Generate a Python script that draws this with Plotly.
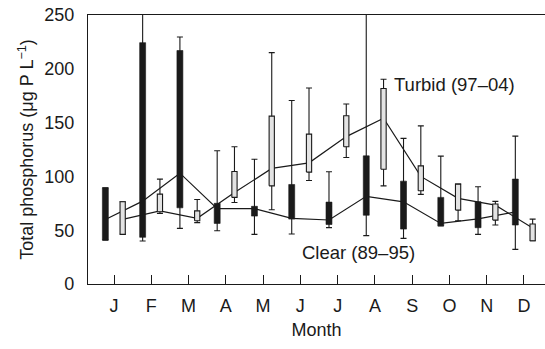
import plotly.graph_objects as go

months = ['J', 'F', 'M', 'A', 'M', 'J', 'J', 'A', 'S', 'O', 'N', 'D']
month_pos = list(range(1, 13))

# Clear period (89-95): whisker low, box q1, box q3, whisker high, connecting-line value
clear_low = [40.8, 40.0, 51.7, 49.5, 46.1, 46.4, 52.4, 45.0, 42.4, 54.0, 46.1, 32.2]
clear_q1 = [40.8, 43.4, 70.8, 56.3, 63.1, 60.3, 55.3, 63.9, 51.0, 54.2, 52.3, 54.8]
clear_q3 = [89.4, 224.3, 217.0, 75.0, 72.2, 92.5, 76.1, 119.1, 95.6, 80.5, 76.4, 97.5]
clear_high = [89.4, 300.0, 229.6, 123.8, 116.0, 170.5, 104.3, 300.0, 135.3, 118.8, 90.4, 137.4]
clear_line = [60.0, 77.0, 103.0, 70.0, 70.0, 61.0, 59.5, 81.5, 76.4, 56.3, 60.5, 67.0]

# Turbid period (97-04)
turbid_low = [46.1, 65.6, 57.0, 75.8, 69.0, 96.2, 117.6, 91.2, 83.3, 58.8, 54.8, 40.2]
turbid_q1 = [46.1, 67.1, 58.8, 80.5, 91.2, 104.0, 127.5, 106.6, 86.6, 68.7, 59.4, 40.2]
turbid_q3 = [76.4, 83.5, 68.0, 104.6, 156.0, 139.3, 156.3, 181.7, 109.8, 92.8, 74.3, 55.7]
turbid_high = [76.4, 97.5, 78.6, 127.5, 215.0, 182.2, 167.3, 190.3, 147.0, 92.8, 76.8, 60.3]
turbid_line = [60.0, 68.0, 61.0, 85.0, 107.4, 112.6, 137.0, 154.0, 100.0, 79.6, 73.3, 52.0]

y_ticks = [0, 50, 100, 150, 200, 250]

# layout / style constants
W, H = 545, 349
ML, MR, MT, MB = 88, 0, 15, 65
X_RANGE = [0.302, 12.564]
Y_RANGE = [0, 250]
OFF_CLEAR, OFF_TURBID = -0.232, 0.232
BOX_W = 0.16
FONT = 'Liberation Sans, Arial, sans-serif'
INK = '#1a1a1a'

xc = [m + OFF_CLEAR for m in month_pos]
xt = [m + OFF_TURBID for m in month_pos]


def box_polys(xs, q1, q3, w):
    px, py = [], []
    for x, a, b in zip(xs, q1, q3):
        px += [x - w / 2, x + w / 2, x + w / 2, x - w / 2, x - w / 2, None]
        py += [a, a, b, b, a, None]
    return px, py


fig = go.Figure()

# connecting lines (drawn first so boxes hide them)
fig.add_trace(go.Scatter(x=xc, y=clear_line, mode='lines',
                         line=dict(color=INK, width=1.2), hoverinfo='skip', showlegend=False))
fig.add_trace(go.Scatter(x=xt, y=turbid_line, mode='lines',
                         line=dict(color=INK, width=1.2), hoverinfo='skip', showlegend=False))

# whiskers
for xs, lo, hi in ((xc, clear_low, clear_high), (xt, turbid_low, turbid_high)):
    fig.add_trace(go.Scatter(
        x=xs, y=lo, mode='markers', marker=dict(size=1, opacity=0),
        error_y=dict(type='data', symmetric=False,
                     array=[h - l for h, l in zip(hi, lo)],
                     arrayminus=[0] * len(lo),
                     color=INK, thickness=1.1, width=3),
        hoverinfo='skip', showlegend=False))

# boxes
bx, by = box_polys(xc, clear_q1, clear_q3, BOX_W)
fig.add_trace(go.Scatter(x=bx, y=by, mode='lines', fill='toself',
                         fillcolor='#1a1a1a', line=dict(color='#1a1a1a', width=0.6),
                         hoverinfo='skip', showlegend=False))
tx, ty = box_polys(xt, turbid_q1, turbid_q3, BOX_W * 0.88)
fig.add_trace(go.Scatter(x=tx, y=ty, mode='lines', fill='toself',
                         fillcolor='#e3e3e3', line=dict(color=INK, width=1.1),
                         hoverinfo='skip', showlegend=False))

fig.add_annotation(x=8.47, y=185.2, xref='x', yref='y', text='Turbid (97–04)',
                   showarrow=False, xanchor='left', yanchor='middle',
                   font=dict(family=FONT, size=18.5, color=INK))
fig.add_annotation(x=5.99, y=29.4, xref='x', yref='y', text='Clear (89–95)',
                   showarrow=False, xanchor='left', yanchor='middle',
                   font=dict(family=FONT, size=18.5, color=INK))

fig.update_layout(
    width=W, height=H,
    margin=dict(l=ML, r=MR, t=MT, b=MB, pad=0),
    paper_bgcolor='white', plot_bgcolor='white',
    font=dict(family=FONT, size=18, color=INK),
    showlegend=False,
)
fig.update_xaxes(
    range=X_RANGE, tickmode='array', tickvals=month_pos, ticktext=months,
    ticks='inside', ticklen=9, tickwidth=1.2, tickcolor=INK,
    showline=True, linecolor=INK, linewidth=1.4, mirror=True,
    showgrid=False, zeroline=False, ticklabelstandoff=5,
    title=dict(text='Month', font=dict(size=18), standoff=8),
    tickfont=dict(size=18),
)
fig.update_yaxes(
    range=Y_RANGE, tickmode='array', tickvals=y_ticks,
    ticks='', showline=True, linecolor=INK, linewidth=1.4,
    showgrid=False, zeroline=False, ticklabelstandoff=9,
    title=dict(text='Total phosphorus (μg P L<sup>−1</sup>)', font=dict(size=18), standoff=5),
    tickfont=dict(size=18),
)

fig.write_html('out.html')
